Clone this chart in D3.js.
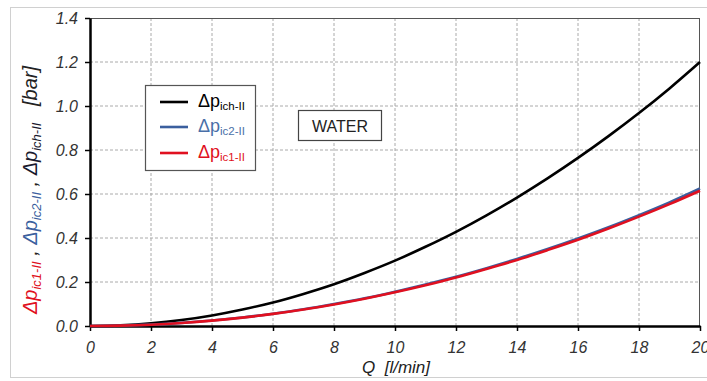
<!DOCTYPE html>
<html><head><meta charset="utf-8">
<script src="https://cdn.jsdelivr.net/npm/d3@7"></script>
<style>body{margin:0;background:#fff;} svg{display:block;font-family:Arial, "Liberation Sans", sans-serif;}</style>
</head><body>
<svg id="c" width="707" height="381"></svg>
<script>
const qValues = [0,1,2,3,4,5,6,7,8,9,10,11,12,13,14,15,16,17,18,19,20];
const dpIch = [0,0.003,0.012,0.027,0.048,0.075,0.107,0.146,0.19,0.241,0.297,0.36,0.428,0.503,0.584,0.671,0.764,0.863,0.968,1.08,1.2];
const dpIc2 = [0,0.0016,0.0063,0.014,0.025,0.039,0.056,0.076,0.1,0.126,0.156,0.189,0.224,0.263,0.305,0.35,0.398,0.449,0.504,0.562,0.625];
const dpIc1 = [0,0.0015,0.006,0.0138,0.0245,0.038,0.055,0.075,0.098,0.124,0.153,0.185,0.22,0.259,0.3,0.345,0.392,0.443,0.497,0.554,0.615];
const xTicks = [0,2,4,6,8,10,12,14,16,18,20];
const yTicks = [0,0.2,0.4,0.6,0.8,1.0,1.2,1.4];
const seriesNames = [["ich-II","#000000"],["ic2-II","#3b5f9e"],["ic1-II","#e01020"]];

const svg = d3.select("#c");
const L=90, R=700, T=18, B=326;
const x = d3.scaleLinear().domain([0,20]).range([L,R]);
const y = d3.scaleLinear().domain([0,1.4]).range([B,T]);

// outer frame
svg.append("rect").attr("x",10.5).attr("y",7.5).attr("width",710).attr("height",370)
  .attr("fill","none").attr("stroke","#d0d0d0").attr("stroke-width",1);

// grid
const g = svg.append("g");
g.selectAll(".gx").data(xTicks.slice(1,-1)).enter().append("line")
  .attr("x1",d=>x(d)).attr("x2",d=>x(d)).attr("y1",T).attr("y2",B)
  .attr("stroke","#aaa").attr("stroke-width",1).attr("stroke-dasharray","3,2");
g.selectAll(".gy").data(yTicks.slice(1,-1)).enter().append("line")
  .attr("x1",L).attr("x2",R).attr("y1",d=>y(d)).attr("y2",d=>y(d))
  .attr("stroke","#aaa").attr("stroke-width",1).attr("stroke-dasharray","3,2");

// top / right border
svg.append("line").attr("x1",L).attr("x2",R).attr("y1",T+0.5).attr("y2",T+0.5).attr("stroke","#555").attr("stroke-width",1);
svg.append("line").attr("x1",R-0.5).attr("x2",R-0.5).attr("y1",T).attr("y2",B).attr("stroke","#555").attr("stroke-width",1);

// axes
const xAxis = svg.append("g").attr("transform",`translate(0,${B})`)
  .call(d3.axisBottom(x).tickValues(xTicks).tickFormat(d3.format("d")).tickSize(5).tickSizeOuter(0));
const yAxis = svg.append("g").attr("transform",`translate(${L},0)`)
  .call(d3.axisLeft(y).tickValues(yTicks).tickFormat(d3.format(".1f")).tickSize(5).tickSizeOuter(0));
[xAxis,yAxis].forEach(a=>{
  a.select(".domain").attr("stroke","#000").attr("stroke-width",2.5);
  a.selectAll(".tick line").attr("stroke","#000").attr("stroke-width",1.5);
  a.selectAll(".tick text").attr("font-size",16).attr("font-style","italic").attr("fill","#333")
   .attr("font-family","Arial, 'Liberation Sans', sans-serif");
});
xAxis.selectAll(".tick text").attr("dy","1.2em");
yAxis.selectAll(".tick text").attr("dx","-4").attr("dy","0.35em");

// lines
const line = d3.line().x((d,i)=>x(qValues[i])).y(d=>y(d)).curve(d3.curveMonotoneX);
const data = [[dpIch,"#000000"],[dpIc2,"#3b5f9e"],[dpIc1,"#e01020"]];
svg.append("g").selectAll("path").data(data).enter().append("path")
  .attr("d",d=>line(d[0])).attr("fill","none").attr("stroke",d=>d[1]).attr("stroke-width",2.6);

// legend
svg.append("rect").attr("x",145.5).attr("y",85.5).attr("width",110).attr("height",85)
  .attr("fill","#fff").attr("stroke","#555").attr("stroke-width",1.2);
const legY=[102,127,153];
const textCol=["#000","#4a6fa8","#e01020"];
seriesNames.forEach((s,i)=>{
  svg.append("line").attr("x1",160).attr("x2",188).attr("y1",legY[i]).attr("y2",legY[i])
    .attr("stroke",s[1]).attr("stroke-width",2.6);
  const t=svg.append("text").attr("x",198).attr("y",legY[i]+5).attr("fill",textCol[i]).attr("font-size",18);
  t.append("tspan").text("Δp");
  t.append("tspan").attr("font-size",11.5).attr("dy",3).text(s[0]);
});

// WATER box
svg.append("rect").attr("x",298.5).attr("y",110.5).attr("width",83).attr("height",30)
  .attr("fill","#fff").attr("stroke","#444").attr("stroke-width",1.2);
svg.append("text").attr("x",340).attr("y",132).attr("text-anchor","middle").attr("font-size",16).attr("fill","#222").text("WATER");

// x label
svg.append("text").attr("x",396).attr("y",373).attr("text-anchor","middle").attr("font-size",17)
  .attr("font-style","italic").attr("fill","#222").text("Q\u00a0\u00a0[l/min]");

// y label
const yl = svg.append("text").attr("transform","translate(37,190) rotate(-90)").attr("text-anchor","middle")
  .attr("font-size",20).attr("font-style","italic");
const parts=[["ic1-II","#e01020"],["ic2-II","#3b5f9e"],["ich-II","#1a1a2e"]];
parts.forEach((p,i)=>{
  yl.append("tspan").attr("fill",p[1]).text("Δp");
  yl.append("tspan").attr("fill",p[1]).attr("font-size",13).attr("dy",4).text(p[0]);
  yl.append("tspan").attr("fill","#222").attr("dy",-4).text(i<2?"\u00a0,\u00a0":"\u00a0\u00a0\u00a0");
});
yl.append("tspan").attr("fill","#222").text("[bar]");
</script>
</body></html>
